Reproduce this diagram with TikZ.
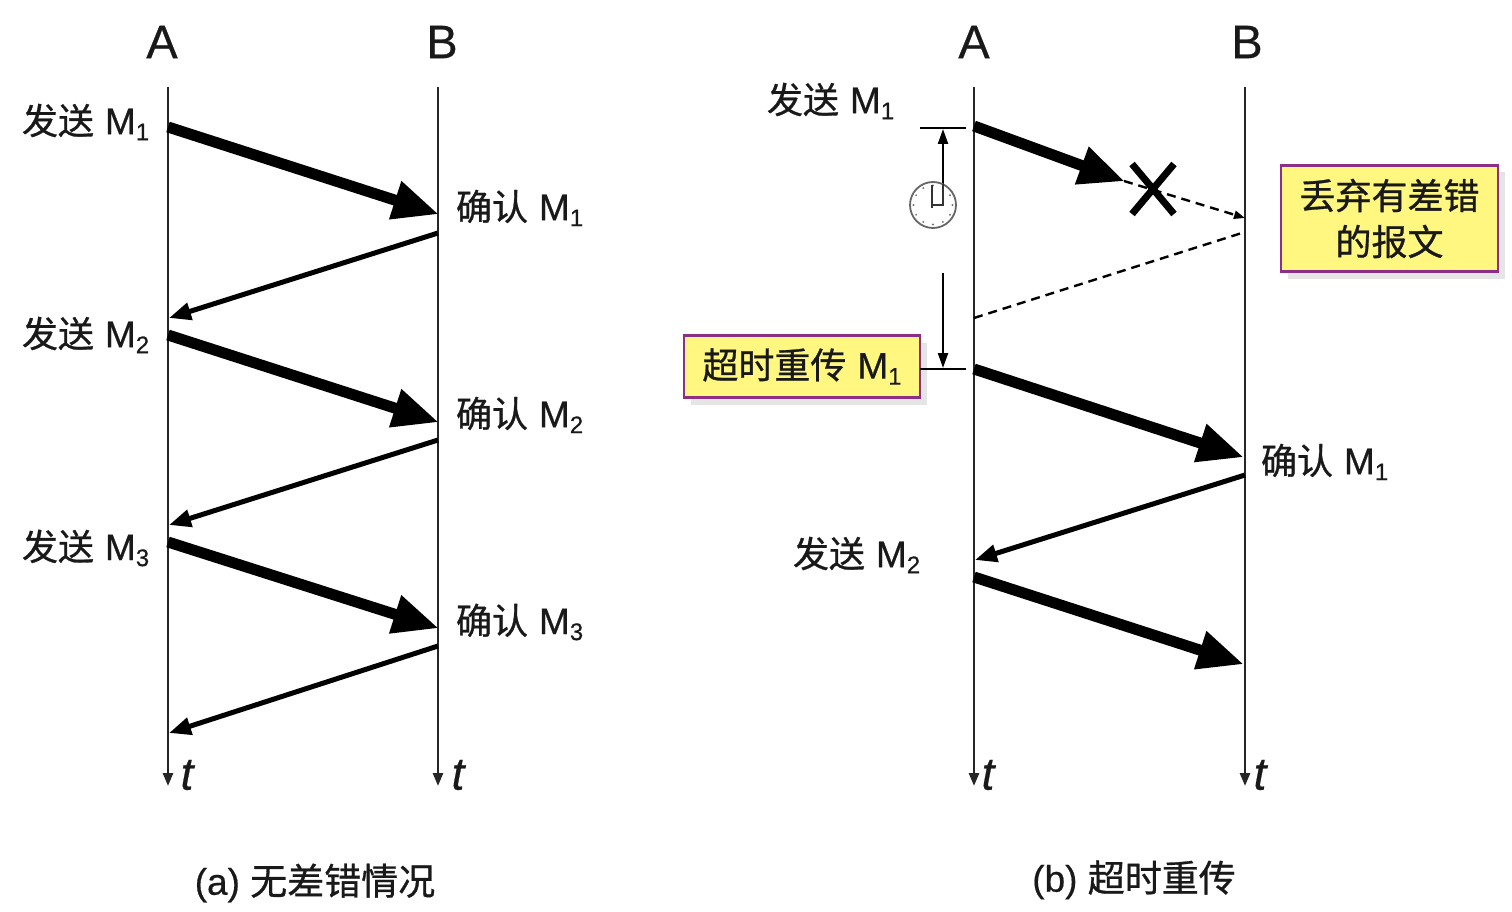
\documentclass[tikz,border=0pt]{standalone}
\usepackage{fontspec}
\setmainfont[FakeBold=0.5]{Liberation Sans}
\newfontfamily\cjk[FakeBold=0.8]{Noto Sans CJK SC}
\usetikzlibrary{arrows.meta,shadows}
\definecolor{noteyellow}{HTML}{FFF77F}
\definecolor{noteedge}{HTML}{8E2F86}
\newcommand{\Msub}[1]{\kern1pt{\fontsize{37}{40}\selectfont M}\raisebox{-6pt}{\fontsize{24}{24}\selectfont #1}}
\newcommand{\zh}[1]{{\cjk #1}}
\tikzset{
  x=1pt,y=-1pt,
  every node/.style={inner sep=0pt,outer sep=0pt,text=black!90},
  lbl/.style={font=\fontsize{36}{40}\selectfont,anchor=west},
  headlbl/.style={font=\fontsize{47}{50}\selectfont},
  tlbl/.style={font=\fontsize{46}{48}\selectfont\itshape},
  caplbl/.style={font=\fontsize{37}{40}\selectfont},
  note/.style={draw=noteedge,line width=2.4pt,fill=noteyellow,font=\fontsize{36}{46}\selectfont,align=center,
    drop shadow={shadow xshift=7pt,shadow yshift=-7pt,fill=black!10,opacity=1}},
  life/.style={line width=2.6pt,draw=black!85,-{Triangle[length=13pt,width=10pt]}},
  sendarrow/.style={line width=11pt,-{Triangle[length=46pt,width=37pt]},shorten >=-1pt},
  ackarrow/.style={line width=5pt,-{Triangle[length=22pt,width=17pt]}},
  lostline/.style={line width=2.4pt,dash pattern=on 9pt off 6pt},
  timer/.style={line width=2.2pt,-{Triangle[length=15pt,width=10pt]}},
  tickline/.style={line width=2.2pt},
}
\begin{document}
\begin{tikzpicture}
\useasboundingbox (0,0) rectangle (1512,912);
\fill[white] (0,0) rectangle (1512,912);
% life lines
\coordinate (a1top) at (168,87); \coordinate (a1end) at (168,786);
\coordinate (b1top) at (438,87); \coordinate (b1end) at (438,786);
\coordinate (a2top) at (974,87); \coordinate (a2end) at (974,786);
\coordinate (b2top) at (1245,87); \coordinate (b2end) at (1245,786);
\draw[life] (a1top) -- (a1end);
\draw[life] (b1top) -- (b1end);
\draw[life] (a2top) -- (a2end);
\draw[life] (b2top) -- (b2end);
% heads
\node[headlbl] (ha1) at (162,42) {A};
\node[headlbl] (hb1) at (442,42) {B};
\node[headlbl] (ha2) at (974,42) {A};
\node[headlbl] (hb2) at (1247,42) {B};
\node[tlbl] (t1) at (187,775) {t};
\node[tlbl] (t2) at (458,775) {t};
\node[tlbl] (t3) at (988,775) {t};
\node[tlbl] (t4) at (1260,775) {t};
% (a)
\coordinate (p1) at (168,127); \coordinate (q1) at (438,214);
\coordinate (q2) at (438,233); \coordinate (p2) at (169,318);
\coordinate (p3) at (168,335); \coordinate (q3) at (438,422);
\coordinate (q4) at (438,440); \coordinate (p4) at (169,525);
\coordinate (p5) at (168,542); \coordinate (q5) at (438,628);
\coordinate (q6) at (438,646); \coordinate (p6) at (169,733);
\draw[sendarrow] (p1) -- (q1);
\draw[ackarrow] (q2) -- (p2);
\draw[sendarrow] (p3) -- (q3);
\draw[ackarrow] (q4) -- (p4);
\draw[sendarrow] (p5) -- (q5);
\draw[ackarrow] (q6) -- (p6);
\node[lbl] (s1) at (22,122) {\zh{发送} \Msub{1}};
\node[lbl] (s2) at (22,335) {\zh{发送} \Msub{2}};
\node[lbl] (s3) at (22,548) {\zh{发送} \Msub{3}};
\node[lbl] (c1) at (456,208) {\zh{确认} \Msub{1}};
\node[lbl] (c2) at (456,415) {\zh{确认} \Msub{2}};
\node[lbl] (c3) at (456,622) {\zh{确认} \Msub{3}};
\node[caplbl] (capa) at (315,883) {(a) \zh{无差错情况}};
% (b)
\coordinate (r1) at (974,126); \coordinate (r1e) at (1124,181);
\coordinate (u1) at (1245,218);
\coordinate (u2) at (1245,232); \coordinate (r2) at (974,318);
\coordinate (r3) at (974,369); \coordinate (u3) at (1243,457);
\coordinate (u4) at (1245,475); \coordinate (r4) at (975,560);
\coordinate (r5) at (974,577); \coordinate (u5) at (1243,664);
\draw[sendarrow] (r1) -- (r1e);
\draw[lostline,-{Triangle[length=11pt,width=8pt]}] (r1e) -- (u1);
\draw[lostline] (r2) -- (u2);
\draw[sendarrow] (r3) -- (u3);
\draw[ackarrow] (u4) -- (r4);
\draw[sendarrow] (r5) -- (u5);
% cross
\coordinate (x1) at (1132,164); \coordinate (x2) at (1174,214);
\coordinate (x3) at (1174,164); \coordinate (x4) at (1132,214);
\draw[line width=7pt] (x1) -- (x2);
\draw[line width=7pt] (x3) -- (x4);
% timer
\coordinate (k1) at (920,128); \coordinate (k1e) at (966,128);
\coordinate (k2e) at (966,369);
\coordinate (ta) at (943,184); \coordinate (tat) at (943,129);
\coordinate (tb) at (943,273); \coordinate (tbt) at (943,368);
\draw[tickline] (k1) -- (k1e);
\draw[timer] (ta) -- (tat);
\draw[timer] (tb) -- (tbt);
% clock
\coordinate (ck) at (933,205);
\draw[line width=1.8pt,draw=black!60] (ck) circle (23);
\foreach \a in {0,30,...,330} \fill[black!55] (ck) ++(\a:19.5) circle (1.1);
\draw[line width=2pt,draw=black!80] (ck) ++(-1,-20) -- ++(0,23);
\draw[line width=2pt,draw=black!80] (ck) ++(10,-21) -- ++(0,21) -- ++(-11,0);
\node[lbl] (sb1) at (767,101) {\zh{发送} \Msub{1}};
\node[lbl] (sb2) at (793,555) {\zh{发送} \Msub{2}};
\node[lbl] (cb1) at (1261,462) {\zh{确认} \Msub{1}};
\node[note,minimum width=236pt,minimum height=62pt] (retx) at (802,366.5) {\zh{超时重传} \Msub{1}};
\draw[tickline] (retx.east |- k2e) -- (k2e);
\node[note,minimum width=217pt,minimum height=106pt] (drop) at (1389.5,218.5) {\zh{丢弃有差错}\\[0pt]\zh{的报文}};
\node[caplbl] (capb) at (1134,880) {(b) \zh{超时重传}};
\end{tikzpicture}
\end{document}
